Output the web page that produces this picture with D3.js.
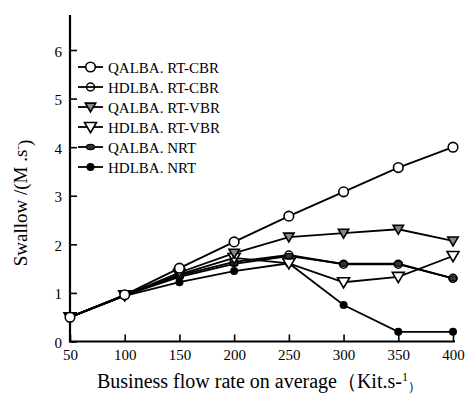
<!DOCTYPE html>
<html>
<head>
<meta charset="utf-8">
<script src="https://cdn.jsdelivr.net/npm/d3@7"></script>
<style>
  body { margin: 0; background: #fff; }
  text { font-family: "Liberation Serif", "Times New Roman", serif; fill: #000; }
</style>
</head>
<body>
<svg id="chart" width="466" height="394"></svg>
<script>
// x categories (Kit/s)
var rates = [50, 100, 150, 200, 250, 300, 350, 400];
var yTicks = [0, 1, 2, 3, 4, 5, 6];

// series values
var qalbaCbr = [0.5, 0.96, 1.51, 2.05, 2.58, 3.08, 3.58, 4.0];
var hdlbaCbr = [0.5, 0.95, 1.36, 1.64, 1.78, 1.59, 1.59, 1.3];
var qalbaVbr = [0.5, 0.95, 1.42, 1.82, 2.15, 2.23, 2.31, 2.07];
var hdlbaVbr = [0.5, 0.95, 1.38, 1.72, 1.61, 1.22, 1.33, 1.76];
var qalbaNrt = [0.5, 0.95, 1.33, 1.6, 1.76, 1.6, 1.6, 1.3];
var hdlbaNrt = [0.5, 0.94, 1.22, 1.45, 1.61, 0.75, 0.2, 0.2];

var seriesNames = ["QALBA. RT-CBR", "HDLBA. RT-CBR", "QALBA. RT-VBR", "HDLBA. RT-VBR", "QALBA. NRT", "HDLBA. NRT"];
var seriesValues = [qalbaCbr, hdlbaCbr, qalbaVbr, hdlbaVbr, qalbaNrt, hdlbaNrt];
var markerKinds = ["openCircle", "lineCircle", "grayTri", "openTri", "oval", "dot"];

var svg = d3.select("#chart");

var x = d3.scaleLinear().domain([50, 400]).range([70, 453]);
var y = d3.scaleLinear().domain([0, 6]).range([341.5, 50]);

// axes, ticks pointing inwards
var xAxis = svg.append("g")
    .attr("transform", "translate(0," + y(0) + ")")
    .call(d3.axisBottom(x).tickValues(rates).tickSize(-7).tickPadding(14).tickSizeOuter(0)
        .tickFormat(d3.format("d")));
xAxis.select(".domain").attr("d", "M" + x(50) + ",0H" + (x(400) + 2));

var yAxis = svg.append("g")
    .attr("transform", "translate(" + x(50) + ",0)")
    .call(d3.axisLeft(y).tickValues(yTicks).tickSize(-7).tickPadding(8).tickSizeOuter(0)
        .tickFormat(d3.format("d")));
yAxis.select(".domain").attr("d", "M0," + (y(0) + 1) + "V15");

svg.selectAll("g").attr("font-family", null);
svg.selectAll(".tick line").attr("stroke", "#000").attr("stroke-width", 1.6);
svg.selectAll(".domain").attr("stroke", "#000").attr("stroke-width", 2.2);
svg.selectAll(".tick text").style("font-size", "15px")
    .style("font-family", "'Liberation Serif', serif");
yAxis.selectAll(".tick text").attr("dy", "0.4em");
xAxis.selectAll(".tick text").attr("dy", "0.3em");

// draw one marker of a given kind at (cx, cy)
function drawMarker(g, kind, cx, cy) {
    if (kind === "openCircle") {
        g.append("circle").attr("cx", cx).attr("cy", cy).attr("r", 4.8)
            .attr("fill", "#fff").attr("stroke", "#000").attr("stroke-width", 1.6);
    } else if (kind === "lineCircle") {
        g.append("circle").attr("cx", cx).attr("cy", cy).attr("r", 4)
            .attr("fill", "none").attr("stroke", "#000").attr("stroke-width", 1.5);
    } else if (kind === "grayTri" || kind === "openTri") {
        var s = kind === "grayTri" ? 5.2 : 6;
        g.append("path")
            .attr("d", "M" + (cx - s) + "," + (cy - s * 0.75) + "L" + (cx + s) + "," + (cy - s * 0.75) + "L" + cx + "," + (cy + s * 0.95) + "Z")
            .attr("fill", kind === "grayTri" ? "#888" : "#fff")
            .attr("stroke", "#000").attr("stroke-width", 1.6);
    } else if (kind === "oval") {
        g.append("ellipse").attr("cx", cx).attr("cy", cy).attr("rx", 4).attr("ry", 2.6)
            .attr("fill", "#333").attr("stroke", "#000").attr("stroke-width", 1.2);
    } else {
        g.append("circle").attr("cx", cx).attr("cy", cy).attr("r", 4).attr("fill", "#000");
    }
}

var line = d3.line()
    .x(function(d, i) { return x(rates[i]); })
    .y(function(d) { return y(d); });

// lines first, then markers on top
var plot = svg.append("g");
seriesValues.forEach(function(vals) {
    plot.append("path").datum(vals)
        .attr("d", line)
        .attr("fill", "none")
        .attr("stroke", "#000")
        .attr("stroke-width", 1.8);
});
var marks = svg.append("g");
[4, 5, 3, 2, 1, 0].forEach(function(k) {
    seriesValues[k].forEach(function(v, i) {
        drawMarker(marks, markerKinds[k], x(rates[i]), y(v));
    });
});

// legend
var legend = svg.append("g");
seriesNames.forEach(function(name, k) {
    var ly = 67 + k * 20;
    legend.append("line").attr("x1", 78).attr("x2", 103).attr("y1", ly).attr("y2", ly)
        .attr("stroke", "#000").attr("stroke-width", 1.8);
    drawMarker(legend, markerKinds[k], 90.5, ly);
    legend.append("text").attr("x", 108).attr("y", ly + 5.5)
        .style("font-size", "15px").text(name);
});

// axis titles
var yTitle = svg.append("text")
    .attr("transform", "translate(27,203) rotate(-90)")
    .attr("text-anchor", "middle")
    .style("font-size", "19px");
yTitle.append("tspan").text("Swallow /(M .s");
yTitle.append("tspan").attr("dy", "-0.55em").style("font-size", "11px").text("-");
yTitle.append("tspan").attr("dy", "0.55em").text(")");

var xTitle = svg.append("text")
    .attr("x", 97).attr("y", 388)
    .style("font-size", "20px");
xTitle.append("tspan").text("Business flow rate on average（Kit.s-");
xTitle.append("tspan").attr("dy", "-0.6em").style("font-size", "12px").text("1");
xTitle.append("tspan").attr("dy", "0.75em").style("font-size", "13px").text("）");
</script>
</body>
</html>
